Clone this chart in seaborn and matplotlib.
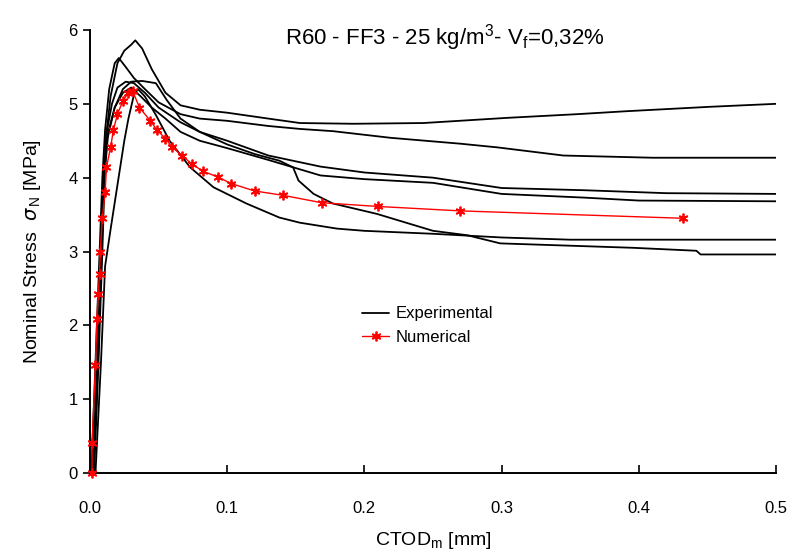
import numpy as np
import pandas as pd
import matplotlib
matplotlib.use('Agg')
import matplotlib.pyplot as plt
import seaborn as sns

# ============ DATA ============
# numerical curve
num_x = [0.0015, 0.0015, 0.004, 0.005, 0.006, 0.007, 0.0075, 0.009, 0.011, 0.012, 0.015, 0.017,
         0.020, 0.024, 0.028, 0.031, 0.036, 0.044, 0.049, 0.055, 0.060, 0.067, 0.074, 0.082,
         0.093, 0.103, 0.120, 0.141, 0.169, 0.210, 0.270, 0.432]
num_y = [0.0, 0.40, 1.46, 2.09, 2.43, 2.70, 3.00, 3.46, 3.80, 4.14, 4.41, 4.64,
         4.86, 5.04, 5.15, 5.18, 4.95, 4.77, 4.64, 4.53, 4.41, 4.30, 4.19, 4.09,
         4.01, 3.92, 3.82, 3.76, 3.66, 3.61, 3.55, 3.45]

# experimental curves
exp1_x = [0.002, 0.005, 0.008, 0.010, 0.012, 0.015, 0.020, 0.025, 0.030, 0.033, 0.038, 0.045, 0.055,
          0.066, 0.080, 0.100, 0.130, 0.153, 0.192, 0.243, 0.304, 0.355, 0.391, 0.452, 0.500]
exp1_y = [0.0, 1.2, 2.8, 4.0, 4.6, 5.1, 5.55, 5.72, 5.80, 5.86, 5.75, 5.47, 5.15,
          4.98, 4.92, 4.88, 4.80, 4.74, 4.73, 4.74, 4.81, 4.86, 4.90, 4.96, 5.00]

exp2_x = [0.001, 0.004, 0.007, 0.009, 0.011, 0.014, 0.018, 0.021, 0.026, 0.032, 0.040, 0.050,
          0.066, 0.080, 0.100, 0.130, 0.153, 0.177, 0.219, 0.270, 0.297, 0.345, 0.410, 0.500]
exp2_y = [0.0, 1.5, 3.0, 4.0, 4.65, 5.2, 5.55, 5.62, 5.50, 5.35, 5.20, 5.02,
          4.86, 4.80, 4.77, 4.70, 4.66, 4.63, 4.54, 4.46, 4.41, 4.30, 4.27, 4.27]

exp3_x = [0.002, 0.005, 0.008, 0.010, 0.012, 0.016, 0.020, 0.026, 0.032, 0.040, 0.050, 0.066,
          0.080, 0.100, 0.130, 0.168, 0.200, 0.250, 0.300, 0.360, 0.420, 0.500]
exp3_y = [0.0, 1.3, 2.9, 4.0, 4.6, 5.0, 5.22, 5.30, 5.28, 5.15, 4.95, 4.75,
          4.62, 4.50, 4.30, 4.15, 4.07, 4.00, 3.86, 3.83, 3.79, 3.78]

exp4_x = [0.003, 0.006, 0.009, 0.011, 0.013, 0.018, 0.024, 0.030, 0.037, 0.045, 0.055, 0.066,
          0.080, 0.100, 0.130, 0.168, 0.200, 0.250, 0.300, 0.360, 0.400, 0.500]
exp4_y = [0.0, 1.4, 3.0, 4.2, 4.6, 4.95, 5.15, 5.22, 5.10, 4.95, 4.80, 4.62,
          4.50, 4.40, 4.24, 4.03, 3.98, 3.93, 3.78, 3.73, 3.69, 3.68]

exp5_x = [0.002, 0.005, 0.008, 0.010, 0.013, 0.018, 0.024, 0.030, 0.038, 0.048, 0.056, 0.066,
          0.080, 0.100, 0.120, 0.138, 0.148, 0.152, 0.163, 0.177, 0.209, 0.250, 0.275, 0.299,
          0.396, 0.442, 0.445, 0.500]
exp5_y = [0.0, 1.1, 2.7, 3.9, 4.55, 4.95, 5.20, 5.30, 5.31, 5.28, 5.05, 4.80,
          4.62, 4.45, 4.32, 4.23, 4.14, 3.96, 3.78, 3.65, 3.51, 3.28, 3.22, 3.11,
          3.05, 3.01, 2.96, 2.96]

exp6_x = [0.004, 0.008, 0.011, 0.015, 0.020, 0.025, 0.028, 0.032, 0.035, 0.040, 0.048, 0.058,
          0.073, 0.090, 0.114, 0.138, 0.153, 0.180, 0.200, 0.250, 0.300, 0.350, 0.500]
exp6_y = [0.0, 1.5, 2.8, 3.3, 3.9, 4.5, 4.8, 5.12, 5.20, 5.10, 4.85, 4.50,
          4.14, 3.87, 3.65, 3.46, 3.39, 3.31, 3.28, 3.24, 3.19, 3.16, 3.16]

exp_curves = [(exp1_x, exp1_y), (exp2_x, exp2_y), (exp3_x, exp3_y),
              (exp4_x, exp4_y), (exp5_x, exp5_y), (exp6_x, exp6_y)]

x_ticks = [0.0, 0.1, 0.2, 0.3, 0.4, 0.5]
x_tick_labels = ['0.0', '0.1', '0.2', '0.3', '0.4', '0.5']
y_ticks = [0, 1, 2, 3, 4, 5, 6]

# =============== PLOT ====================
sns.set_style('ticks')
plt.rcParams['font.family'] = ['Liberation Sans', 'DejaVu Sans']
plt.rcParams['mathtext.default'] = 'regular'
for k in ['text.color', 'axes.labelcolor', 'xtick.color', 'ytick.color']:
    plt.rcParams[k] = 'black'

fig = plt.figure(figsize=(7.92, 5.53), dpi=100)
ax = fig.add_axes([90 / 792, 1 - 473 / 553, 686 / 792, 443 / 553])

for i, (cx, cy) in enumerate(exp_curves):
    sns.lineplot(x=cx, y=cy, ax=ax, color='black', linewidth=1.3, sort=False,
                 estimator=None, label='Experimental' if i == 0 else None)

sns.lineplot(x=num_x, y=num_y, ax=ax, color='red', linewidth=1.0, sort=False,
             estimator=None, marker=(6, 2, 0), markersize=7, markeredgewidth=1.3,
             markeredgecolor='red', label='Numerical', clip_on=False, zorder=5)

ax.set_xlim(0, 0.5)
ax.set_ylim(0, 6)
ax.set_xticks(x_ticks)
ax.set_xticklabels(x_tick_labels)
ax.set_yticks(y_ticks)
ax.tick_params(axis='x', direction='in', length=6, width=1.2, labelsize=12, pad=20)
ax.tick_params(axis='y', direction='out', length=5, width=1.2, labelsize=12, pad=4)
sns.despine(ax=ax)
for s in ['left', 'bottom']:
    ax.spines[s].set_linewidth(1.4)
    ax.spines[s].set_color('black')

ax.set_xlabel('CTOD$_m$ [mm]', fontsize=14, labelpad=10)
ax.set_ylabel('Nominal Stress  $\\mathit{\\sigma}_{\\,N}$ [MPa]', fontsize=14, labelpad=18)

fig.text(0.562, 0.932, 'R60 - FF3 - 25 kg/m$^3$- V$_f$=0,32%', fontsize=16,
         ha='center', va='center')

leg = ax.legend(loc='upper left', bbox_to_anchor=(0.375, 0.41), frameon=False,
                prop={'size': 12}, handlelength=1.6, handletextpad=0.4, labelspacing=0.5)

plt.savefig('out.png', dpi=100)
